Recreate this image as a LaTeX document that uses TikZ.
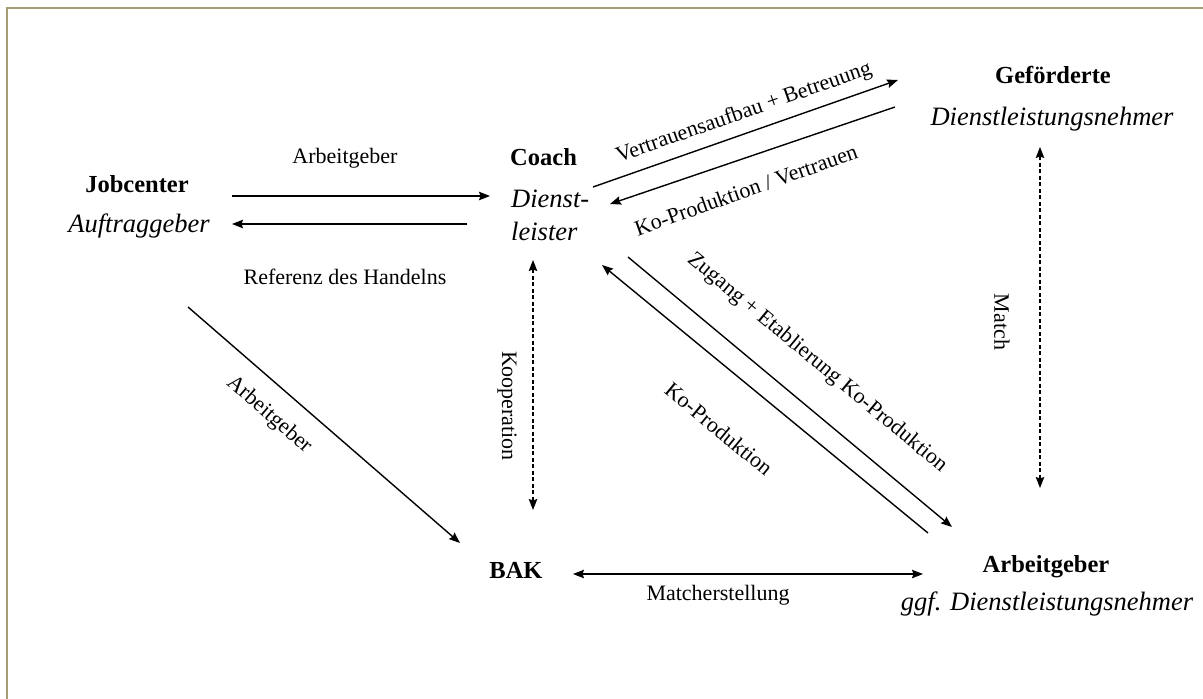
\documentclass[tikz,border=0pt]{standalone}
\usepackage{fontspec}
\setmainfont{Liberation Serif}
\usetikzlibrary{arrows.meta}
\definecolor{framec}{RGB}{166,158,112}
\tikzset{
  ent/.style={font=\fontsize{24.5}{28}\selectfont\bfseries, inner sep=0pt, anchor=base},
  role/.style={font=\fontsize{26.5}{30}\selectfont\itshape, inner sep=0pt, anchor=base},
  lab/.style={font=\fontsize{22}{25}\selectfont, inner sep=0pt},
  tip/.style={},
  arr/.style={line width=1.4pt, -{Stealth[length=11pt,width=8.5pt,inset=1.5pt]}},
  darr/.style={line width=1.4pt, dash pattern=on 4pt off 2.5pt,
    {Stealth[length=11pt,width=8.5pt,inset=1.5pt]}-{Stealth[length=11pt,width=8.5pt,inset=1.5pt]}},
  barr/.style={line width=1.4pt,
    {Stealth[length=11pt,width=8.5pt,inset=1.5pt]}-{Stealth[length=11pt,width=8.5pt,inset=1.5pt]}}
}
\begin{document}
\begin{tikzpicture}[x=1pt,y=-1pt]
\useasboundingbox (0,0) rectangle (1203,699);
\fill[white] (0,0) rectangle (1203,699);
\draw[framec, line width=2pt] (7,699) -- (7,8) -- (1203,8);

% entities
\node[ent] (job) at (137,192) {Jobcenter};
\node[role] (auf) at (139,232) {Auftraggeber};
\node[ent, anchor=base west] (coach) at (510,165) {Coach};
\node[role, anchor=base west] (dienst) at (511,207) {Dienst-};
\node[role, anchor=base west] (leister) at (511,240) {leister};
\node[ent] (gef) at (1053,83) {Geförderte};
\node[role] (dln) at (1052,125) {Dienstleistungsnehmer};
\node[ent] (bak) at (516,578) {BAK};
\node[ent] (ag) at (1046,572) {Arbeitgeber};
\node[role] (ggf) at (1047,610) {ggf. Dienstleistungsnehmer};

% connector end points
\coordinate (a1s) at (232,196); \coordinate (a1e) at (490,196);
\coordinate (a2s) at (467,224); \coordinate (a2e) at (232,224);
\coordinate (a3s) at (593,187); \coordinate (a3e) at (898,80);
\coordinate (a4s) at (895,107); \coordinate (a4e) at (610,204);
\coordinate (a5s) at (628,257); \coordinate (a5e) at (952,527);
\coordinate (a6s) at (928,533); \coordinate (a6e) at (602,265);
\coordinate (a7s) at (188,307); \coordinate (a7e) at (460,543);
\coordinate (a8t) at (533,260); \coordinate (a8b) at (533,510);
\coordinate (a9t) at (1040,147); \coordinate (a9b) at (1040,488);
\coordinate (a10l) at (573,574); \coordinate (a10r) at (923,574);

% connectors
\draw[arr] (a1s) -- (a1e);
\draw[arr] (a2s) -- (a2e);
\draw[arr] (a3s) -- (a3e);
\draw[arr] (a4s) -- (a4e);
\draw[arr] (a5s) -- (a5e);
\draw[arr] (a6s) -- (a6e);
\draw[arr] (a7s) -- (a7e);
\draw[darr] (a8t) -- (a8b);
\draw[darr] (a9t) -- (a9b);
\draw[barr] (a10l) -- (a10r);

% labels
\node[lab, anchor=base] (l1) at (345,163) {Arbeitgeber};
\node[lab, anchor=base] (l2) at (345,284) {Referenz des Handelns};
\node[lab, rotate=19.3] (l3) at (744,113) {Vertrauensaufbau + Betreuung};
\node[lab, rotate=19.5] (l4) at (746,190) {Ko-Produktion / Vertrauen};
\node[lab, rotate=-39.8] (l5) at (817,363) {Zugang + Etablierung Ko-Produktion};
\node[lab, rotate=-39.6] (l6) at (719,429) {Ko-Produktion};
\node[lab, rotate=-41] (l7) at (269,415) {Arbeitgeber};
\node[lab, rotate=-90] (l8) at (507,406) {Kooperation};
\node[lab, rotate=-90] (l9) at (1002,322) {Match};
\node[lab, anchor=base] (l10) at (718,600) {Matcherstellung};
\end{tikzpicture}
\end{document}
